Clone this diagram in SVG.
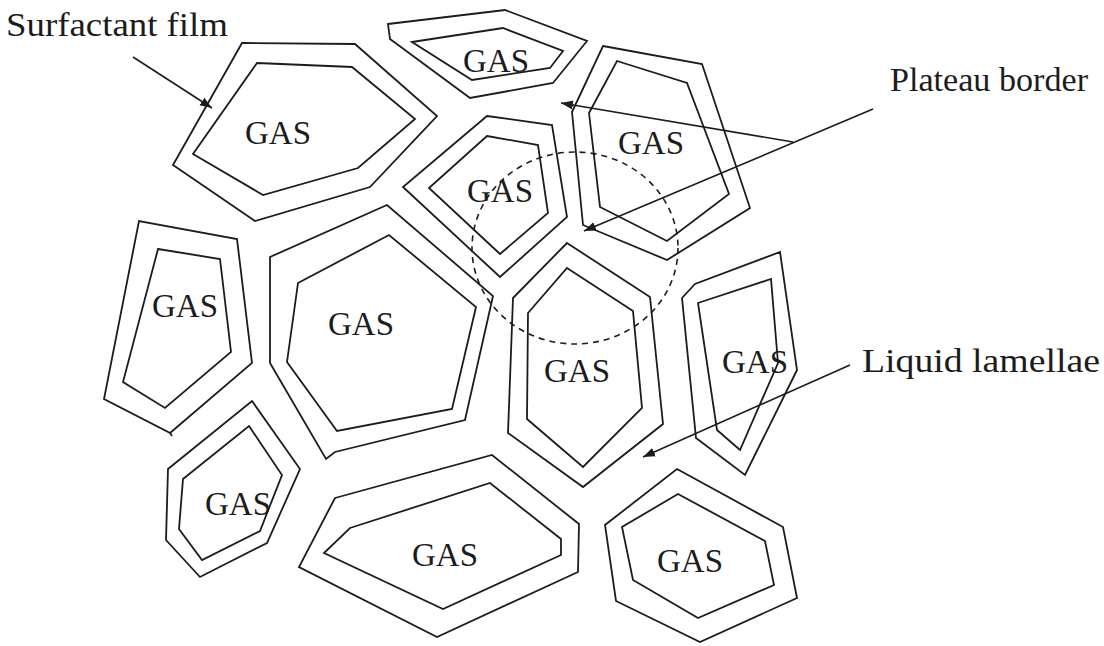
<svg xmlns="http://www.w3.org/2000/svg" width="1104" height="646" viewBox="0 0 1104 646">
<defs>
<style>
.cell{fill:none;stroke:#1c1c1c;stroke-width:1.8;stroke-linejoin:miter}
.gas{font-family:"Liberation Serif","Times New Roman",serif;font-size:33px;fill:#1c1c1c}
.lbl{font-family:"Liberation Serif","Times New Roman",serif;font-size:34px;fill:#1c1c1c}
.conn{fill:none;stroke:#1c1c1c;stroke-width:1.6}
.dash{fill:none;stroke:#1c1c1c;stroke-width:1.6;stroke-dasharray:6,5}
</style>
<marker id="ah" markerUnits="userSpaceOnUse" markerWidth="14" markerHeight="10" refX="12" refY="5" orient="auto">
<path d="M0,0.5 L12,5 L0,9.5 Z" fill="#1c1c1c"/>
</marker>
</defs>
<rect width="1104" height="646" fill="#ffffff"/>

<g id="cell1">
<polygon class="cell" points="242,43 355,44 437,116 370,187 255,221 173,165"/>
<polygon class="cell" points="257,63 352,67 415,119 358,168 263,195 193,154"/>
<text class="gas" x="245" y="144">GAS</text>
</g>
<g id="cell2">
<polygon class="cell" points="388,24 505,10 587,41 553,83 470,98 390,39"/>
<polygon class="cell" points="412,42 503,28 563,51 550,68 472,80"/>
<text class="gas" x="463" y="72">GAS</text>
</g>
<g id="cell3">
<polygon class="cell" points="603,46 702,64 750,208 667,260 583,225 572,112"/>
<polygon class="cell" points="617,61 687,83 729,194 667,241 600,207 589,113"/>
<text class="gas" x="618" y="154">GAS</text>
</g>
<g id="cell4">
<polygon class="cell" points="487,116 552,125 567,217 500,277 403,187"/>
<polygon class="cell" points="487,136 538,145 548,213 500,254 429,188"/>
<text class="gas" x="467" y="202">GAS</text>
</g>
<g id="cell5">
<polyline class="cell" points="172,436 170,433 104,399 139,221 237,239 252,363 170,433"/>
<polygon class="cell" points="158,249 220,259 231,352 165,408 123,382"/>
<text class="gas" x="152" y="317">GAS</text>
</g>
<g id="cell6">
<polygon class="cell" points="270,257 387,205 493,296 465,420 335,452 326,459 270,363"/>
<polygon class="cell" points="298,283 389,235 476,307 452,409 337,431 287,362"/>
<text class="gas" x="328" y="335">GAS</text>
</g>
<g id="cell7">
<polygon class="cell" points="567,243 650,297 663,424 583,487 508,433 513,298"/>
<polygon class="cell" points="567,268 633,311 642,408 583,467 527,419 528,313"/>
<text class="gas" x="544" y="382">GAS</text>
</g>
<g id="cell8">
<polygon class="cell" points="682,298 695,284 780,252 797,370 745,475 696,438"/>
<polygon class="cell" points="698,303 771,279 778,363 740,450 717,430"/>
<text class="gas" x="722" y="373">GAS</text>
</g>
<g id="cell9">
<polygon class="cell" points="252,401 300,469 267,543 200,577 166,540 168,469"/>
<polygon class="cell" points="249,426 282,475 260,531 202,560 179,529 183,479"/>
<text class="gas" x="205" y="515">GAS</text>
</g>
<g id="cell10">
<polygon class="cell" points="335,498 492,455 579,524 578,572 437,637 299,567"/>
<polygon class="cell" points="350,528 490,483 561,539 561,555 443,609 324,553"/>
<text class="gas" x="412" y="566">GAS</text>
</g>
<g id="cell11">
<polygon class="cell" points="677,469 783,527 797,598 700,642 616,601 605,525"/>
<polygon class="cell" points="678,494 765,541 774,585 698,618 633,580 622,527"/>
<text class="gas" x="657" y="572">GAS</text>
</g>

<g id="plateau-region">
<ellipse class="dash" cx="575" cy="248" rx="103" ry="96"/>
</g>

<g id="connectors">
<line class="conn" x1="133" y1="57" x2="212" y2="108" marker-end="url(#ah)"/>
<line class="conn" x1="793" y1="142" x2="561" y2="103" marker-end="url(#ah)"/>
<line class="conn" x1="873" y1="109" x2="584" y2="231" marker-end="url(#ah)"/>
<line class="conn" x1="850" y1="365" x2="643" y2="457" marker-end="url(#ah)"/>
</g>

<g id="labels">
<text class="lbl" x="6" y="36" textLength="222" lengthAdjust="spacingAndGlyphs">Surfactant film</text>
<text class="lbl" x="890" y="91" textLength="198" lengthAdjust="spacingAndGlyphs">Plateau border</text>
<text class="lbl" x="862" y="372" textLength="238" lengthAdjust="spacingAndGlyphs">Liquid lamellae</text>
</g>
</svg>
